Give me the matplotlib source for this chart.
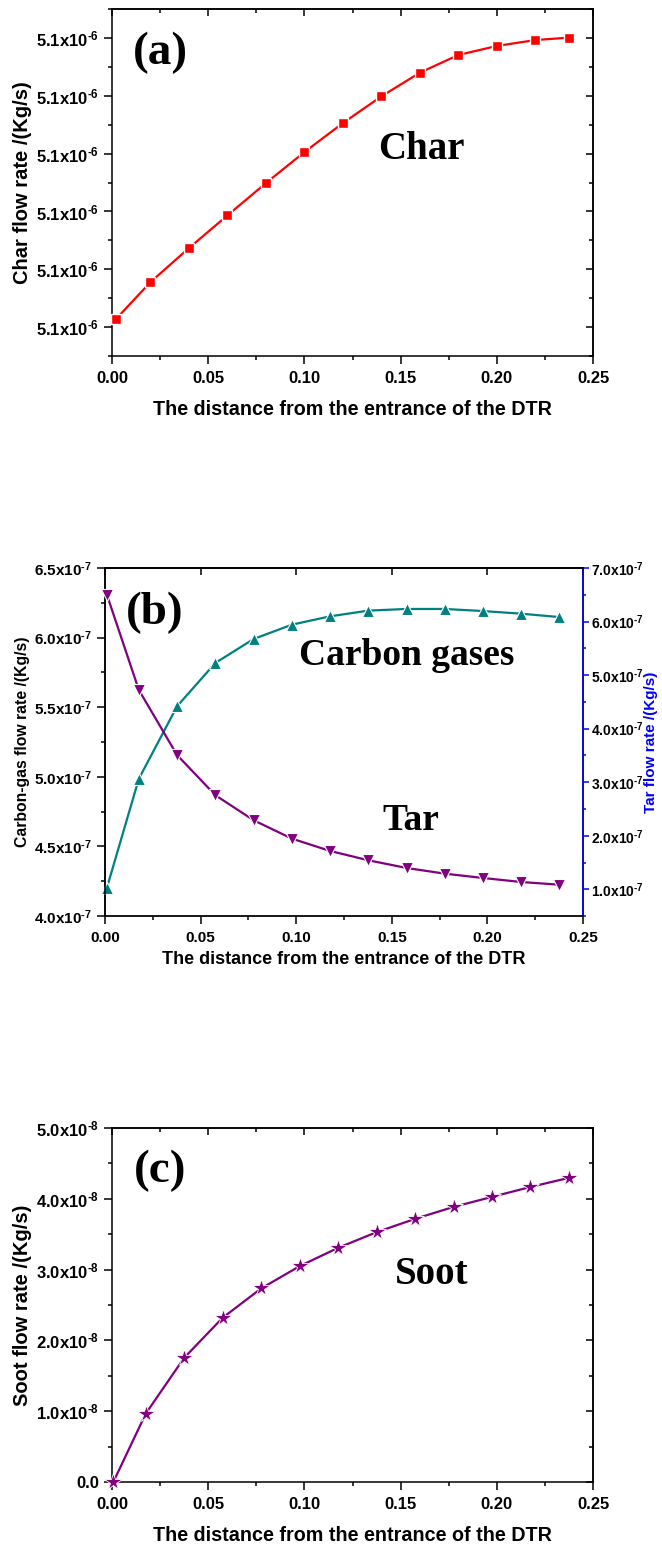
import numpy as np
import matplotlib
matplotlib.use("Agg")
import matplotlib.pyplot as plt
from matplotlib.ticker import MultipleLocator, AutoMinorLocator, FuncFormatter, FixedLocator

# datos
dist_a = [0.002, 0.02, 0.04, 0.06, 0.08, 0.10, 0.12, 0.14, 0.16, 0.18, 0.20, 0.22, 0.2373]
char_rate = [5.10110, 5.10623, 5.11094, 5.11546, 5.11993, 5.12422, 5.12823,
             5.13193, 5.13520, 5.13765, 5.13890, 5.13972, 5.14005]  # x1e-6

dist_b = [0.001, 0.0177, 0.0377, 0.0577, 0.0777, 0.0977, 0.1177, 0.1377,
          0.1577, 0.1777, 0.1977, 0.2177, 0.2374]
carbon_gas = [4.203, 4.986, 5.507, 5.818, 5.990, 6.093, 6.153, 6.194,
              6.206, 6.206, 6.191, 6.172, 6.148]  # x1e-7
tar = [6.501, 4.723, 3.507, 2.758, 2.290, 1.947, 1.716, 1.542,
       1.398, 1.292, 1.211, 1.136, 1.086]  # x1e-7

dist_c = [0.0007, 0.0175, 0.0375, 0.0575, 0.0775, 0.0975, 0.1175, 0.1375,
          0.1575, 0.1775, 0.1975, 0.2175, 0.2373]
soot = [0.0, 0.964, 1.754, 2.319, 2.733, 3.048, 3.307, 3.528,
        3.716, 3.885, 4.026, 4.167, 4.294]  # x1e-8

char_ticks = [5.100, 5.108, 5.116, 5.124, 5.132, 5.140]

plt.rcParams['font.family'] = ['Liberation Sans', 'DejaVu Sans']
plt.rcParams['font.weight'] = 'bold'
plt.rcParams['mathtext.fontset'] = 'custom'
plt.rcParams['mathtext.rm'] = 'Liberation Sans:bold'
plt.rcParams['mathtext.it'] = 'Liberation Sans:bold'
plt.rcParams['mathtext.bf'] = 'Liberation Sans:bold'
plt.rcParams['axes.linewidth'] = 1.1

XLABEL = 'The distance from the entrance of the DTR'
SERIF = 'Liberation Serif'


def fmt_exp(exp, scale):
    def f(v, pos):
        if abs(v) < 1e-20:
            return '0.0'
        return '%.1fx10$^{\\text{%d}}$' % (v / scale, exp)
    return FuncFormatter(f)


def estilo_x(ax, size=12):
    ax.set_xlim(0, 0.25)
    ax.xaxis.set_major_locator(MultipleLocator(0.05))
    ax.xaxis.set_minor_locator(AutoMinorLocator(2))
    ax.xaxis.set_major_formatter(FuncFormatter(lambda v, p: '%.2f' % v))
    ax.tick_params(axis='x', which='major', length=6, width=1.1, labelsize=size, pad=5)
    ax.tick_params(axis='x', which='minor', length=3, width=1.1)


def ticks_internos(ax, y_locator, minor_top=True, right=True):
    top = ax.secondary_xaxis('top')
    top.xaxis.set_major_locator(MultipleLocator(0.05))
    if minor_top:
        top.xaxis.set_minor_locator(AutoMinorLocator(2))
    top.tick_params(which='both', direction='in', labeltop=False, width=1.1)
    top.tick_params(which='major', length=5)
    top.tick_params(which='minor', length=3)
    if right:
        der = ax.secondary_yaxis('right')
        der.yaxis.set_major_locator(y_locator)
        der.yaxis.set_minor_locator(AutoMinorLocator(2))
        der.tick_params(which='both', direction='in', labelright=False, width=1.1)
        der.tick_params(which='major', length=5)
        der.tick_params(which='minor', length=3)


fig = plt.figure(figsize=(6.62, 15.44), dpi=100)

# (a) Char
ax1 = fig.add_axes([0.1692, 0.7694, 0.7266, 0.2247])
ax1.plot(dist_a, np.array(char_rate) * 1e-6, color='red', lw=1.6, marker='s', ms=7,
         mec='white', mew=1.0, clip_on=False, zorder=3)
ax1.set_ylim(5.096e-6, 5.144e-6)
ax1.set_yticks(np.array(char_ticks) * 1e-6)
ax1.yaxis.set_minor_locator(AutoMinorLocator(2))
ax1.yaxis.set_major_formatter(fmt_exp(-6, 1e-6))
ax1.tick_params(axis='y', which='major', length=6, width=1.1, labelsize=12)
ax1.tick_params(axis='y', which='minor', length=3, width=1.1)
estilo_x(ax1)
ticks_internos(ax1, FixedLocator(np.array(char_ticks) * 1e-6))
ax1.set_xlabel(XLABEL, fontsize=14.2, fontweight='bold', labelpad=10)
ax1.set_ylabel('Char flow rate /(Kg/s)', fontsize=14.5, fontweight='bold', labelpad=3)
ax1.text(0.044, 0.873, '(a)', transform=ax1.transAxes, family=SERIF, fontsize=34,
         fontweight='bold', va='center', ha='left')
ax1.text(0.553, 0.594, 'Char', transform=ax1.transAxes, family=SERIF, fontsize=28,
         fontweight='bold', va='center', ha='left')

# (b) Carbon gases y Tar
ax2 = fig.add_axes([0.1586, 0.4067, 0.7221, 0.2254])
ax2.plot(dist_b, np.array(carbon_gas) * 1e-7, color='#008080', lw=1.6, marker='^', ms=8.5,
         mec='white', mew=0.8, clip_on=False, zorder=3)
ax2.set_ylim(4.0e-7, 6.5e-7)
ax2.yaxis.set_major_locator(MultipleLocator(0.5e-7))
ax2.yaxis.set_minor_locator(AutoMinorLocator(2))
ax2.yaxis.set_major_formatter(fmt_exp(-7, 1e-7))
ax2.tick_params(axis='y', which='major', length=6, width=1.1, labelsize=11)
ax2.tick_params(axis='y', which='minor', length=3, width=1.1)
estilo_x(ax2, size=11)
ticks_internos(ax2, None, minor_top=False, right=False)
ax2.spines['bottom'].set_color('#555555')
ax2.set_xlabel(XLABEL, fontsize=13, fontweight='bold', labelpad=4)
ax2.set_ylabel('Carbon-gas flow rate /(Kg/s)', fontsize=11.3, fontweight='bold', labelpad=3)

ax3 = ax2.twinx()
ax3.plot(dist_b, np.array(tar) * 1e-7, color='#800080', lw=1.6, marker='v', ms=8.5,
         mec='white', mew=0.8, clip_on=False, zorder=3)
ax3.set_ylim(0.5e-7, 7.0e-7)
ax3.yaxis.set_major_locator(MultipleLocator(1e-7))
ax3.yaxis.set_minor_locator(AutoMinorLocator(2))
ax3.yaxis.set_major_formatter(fmt_exp(-7, 1e-7))
ax3.spines['right'].set_color('blue')
ax3.tick_params(axis='y', which='major', length=4, width=1.1, colors='blue',
                labelcolor='black', labelsize=10, pad=2)
ax3.tick_params(axis='y', which='minor', length=2, width=1.1, colors='blue')
ax3.set_ylabel('Tar flow rate /(Kg/s)', fontsize=11, fontweight='bold', color='blue', labelpad=0)
ax2.text(0.044, 0.871, '(b)', transform=ax2.transAxes, family=SERIF, fontsize=34,
         fontweight='bold', va='center', ha='left')
ax2.text(0.406, 0.75, 'Carbon gases', transform=ax2.transAxes, family=SERIF, fontsize=27,
         fontweight='bold', va='center', ha='left')
ax2.text(0.58, 0.276, 'Tar', transform=ax2.transAxes, family=SERIF, fontsize=27,
         fontweight='bold', va='center', ha='left')

# (c) Soot
ax4 = fig.add_axes([0.1692, 0.04016, 0.7266, 0.2293])
ax4.plot(dist_c, np.array(soot) * 1e-8, color='#800080', lw=1.6, marker='*', ms=13,
         mec='white', mew=0.6, clip_on=False, zorder=3)
ax4.set_ylim(0, 5.0e-8)
ax4.yaxis.set_major_locator(MultipleLocator(1e-8))
ax4.yaxis.set_minor_locator(AutoMinorLocator(2))
ax4.yaxis.set_major_formatter(fmt_exp(-8, 1e-8))
ax4.tick_params(axis='y', which='major', length=6, width=1.1, labelsize=12)
ax4.tick_params(axis='y', which='minor', length=3, width=1.1)
estilo_x(ax4)
ticks_internos(ax4, MultipleLocator(1e-8))
ax4.set_xlabel(XLABEL, fontsize=14.2, fontweight='bold', labelpad=10)
ax4.set_ylabel('Soot flow rate /(Kg/s)', fontsize=14.5, fontweight='bold', labelpad=3)
ax4.text(0.046, 0.878, '(c)', transform=ax4.transAxes, family=SERIF, fontsize=34,
         fontweight='bold', va='center', ha='left')
ax4.text(0.588, 0.585, 'Soot', transform=ax4.transAxes, family=SERIF, fontsize=28,
         fontweight='bold', va='center', ha='left')

fig.savefig('out.png', dpi=100)
